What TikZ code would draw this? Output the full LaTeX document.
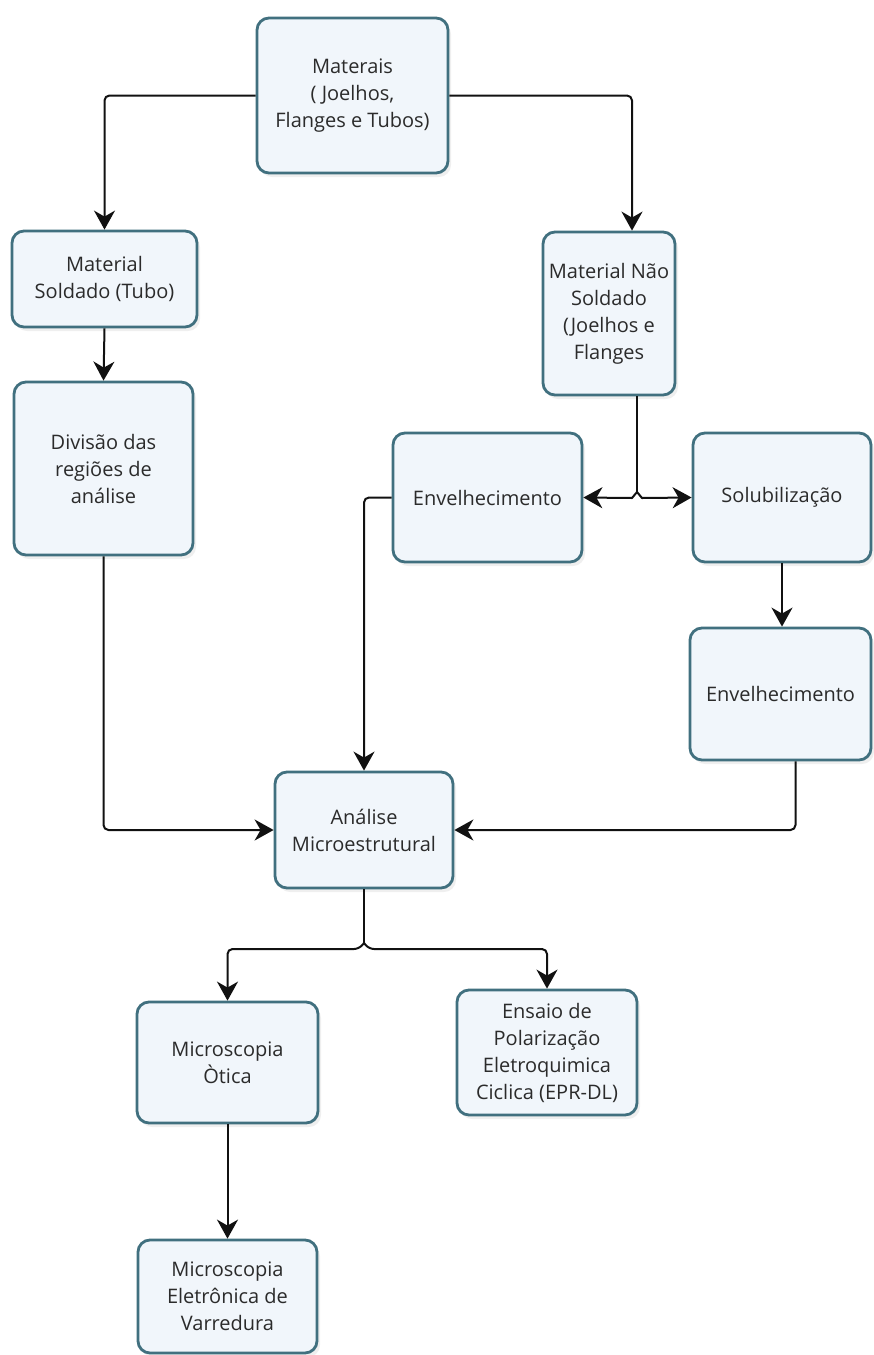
\documentclass[tikz,border=0pt]{standalone}
\usepackage{fontspec}
\setmainfont{Open Sans}
\usetikzlibrary{arrows.meta,calc,shadows}
\definecolor{frame}{HTML}{41707F}
\definecolor{paper}{HTML}{F1F6FB}
\definecolor{ink}{HTML}{111111}
\definecolor{label}{HTML}{2B2B2B}
\newcommand{\Lw}{2pt}

\begin{document}
\begin{tikzpicture}[x=1pt,y=-1pt, line join=round,
  block/.style={draw=frame, fill=paper, line width=2.8pt, rounded corners=12pt,
    align=center, text=label, font=\fontsize{20}{27}\selectfont, inner sep=2pt,
    drop shadow={opacity=0.12, shadow xshift=3pt, shadow yshift=-4pt}},
  link/.style={draw=ink, line width=\Lw, rounded corners=5pt},
  tip/.style={-{Stealth[length=19pt,width=21pt,inset=6pt]}}]

  \fill[white] (0,0) rectangle (873,1355);
  \useasboundingbox (0,0) rectangle (873,1355);

  % ---- top: the stock, split into welded and not welded -------------------
  \node[block, minimum width=191, minimum height=155] (mat) at (352.5,95.5)
    {Materais\\( Joelhos,\\Flanges e Tubos)};
  \node[block, minimum width=185, minimum height=96] (sold) at (104.5,279)
    {Material\\Soldado (Tubo)};
  \node[block, minimum width=132, minimum height=163] (nsold) at (609,313.5)
    {Material Não\\Soldado\\(Joelhos e\\Flanges};

  % ---- middle row: preparation and heat treatments ------------------------
  \node[block, minimum width=179, minimum height=173] (div) at (103.5,468.5)
    {Divisão das\\regiões de\\análise};
  \node[block, minimum width=189, minimum height=129] (env1) at (487.5,497.5)
    {Envelhecimento};
  \node[block, minimum width=178, minimum height=129] (solub) at (782,497.5)
    {Solubilização};
  \node[block, minimum width=181, minimum height=132] (env2) at (780.5,694)
    {Envelhecimento};

  % ---- analysis and the tests that follow it ------------------------------
  \node[block, minimum width=178, minimum height=116] (anal) at (364,830)
    {Análise\\Microestrutural};
  \node[block, minimum width=181, minimum height=121] (otica) at (227.5,1062.5)
    {Microscopia\\Òtica};
  \node[block, minimum width=180, minimum height=125] (ensaio) at (547,1052.5)
    {Ensaio de\\Polarização\\Eletroquimica\\Ciclica (EPR-DL)};
  \node[block, minimum width=179, minimum height=113] (mev) at (227.5,1296.5)
    {Microscopia\\Eletrônica de\\Varredura};

  % ---- connectors ---------------------------------------------------------
  \draw[link,tip] (mat.west) -| (sold.north);
  \draw[link,tip] (mat.east) -| ($(nsold.north)+(23,0)$);
  \draw[link,tip] (sold.south) -- (div.north);

  % the split under the unwelded stock, with its little hop
  \coordinate (hopA) at (637,492);
  \draw[link] ($(nsold.south)+(28,0)$) -- (hopA);
  \draw[link,tip,rounded corners=0pt] (hopA) -- ++(-5,6) -- (env1.east);
  \draw[link,tip,rounded corners=0pt] (hopA) -- ++(5,6) -- (solub.west);

  \draw[link,tip] (env1.west) -| (anal.north);
  \draw[link,tip] (div.south) |- (anal.west);
  \draw[link,tip] (solub.south) -- (solub.south |- env2.north);
  \draw[link,tip] ($(env2.south)+(15,0)$) |- (anal.east);

  % the split under the analysis
  \coordinate (hopB) at (364,943);
  \draw[link] (anal.south) -- (hopB);
  \draw[link,tip] (hopB) -- ++(-5,6) -| (otica.north);
  \draw[link,tip] (hopB) -- ++(5,6) -| (ensaio.north);
  \draw[link,tip] (otica.south) -- (mev.north);

\end{tikzpicture}
\end{document}
